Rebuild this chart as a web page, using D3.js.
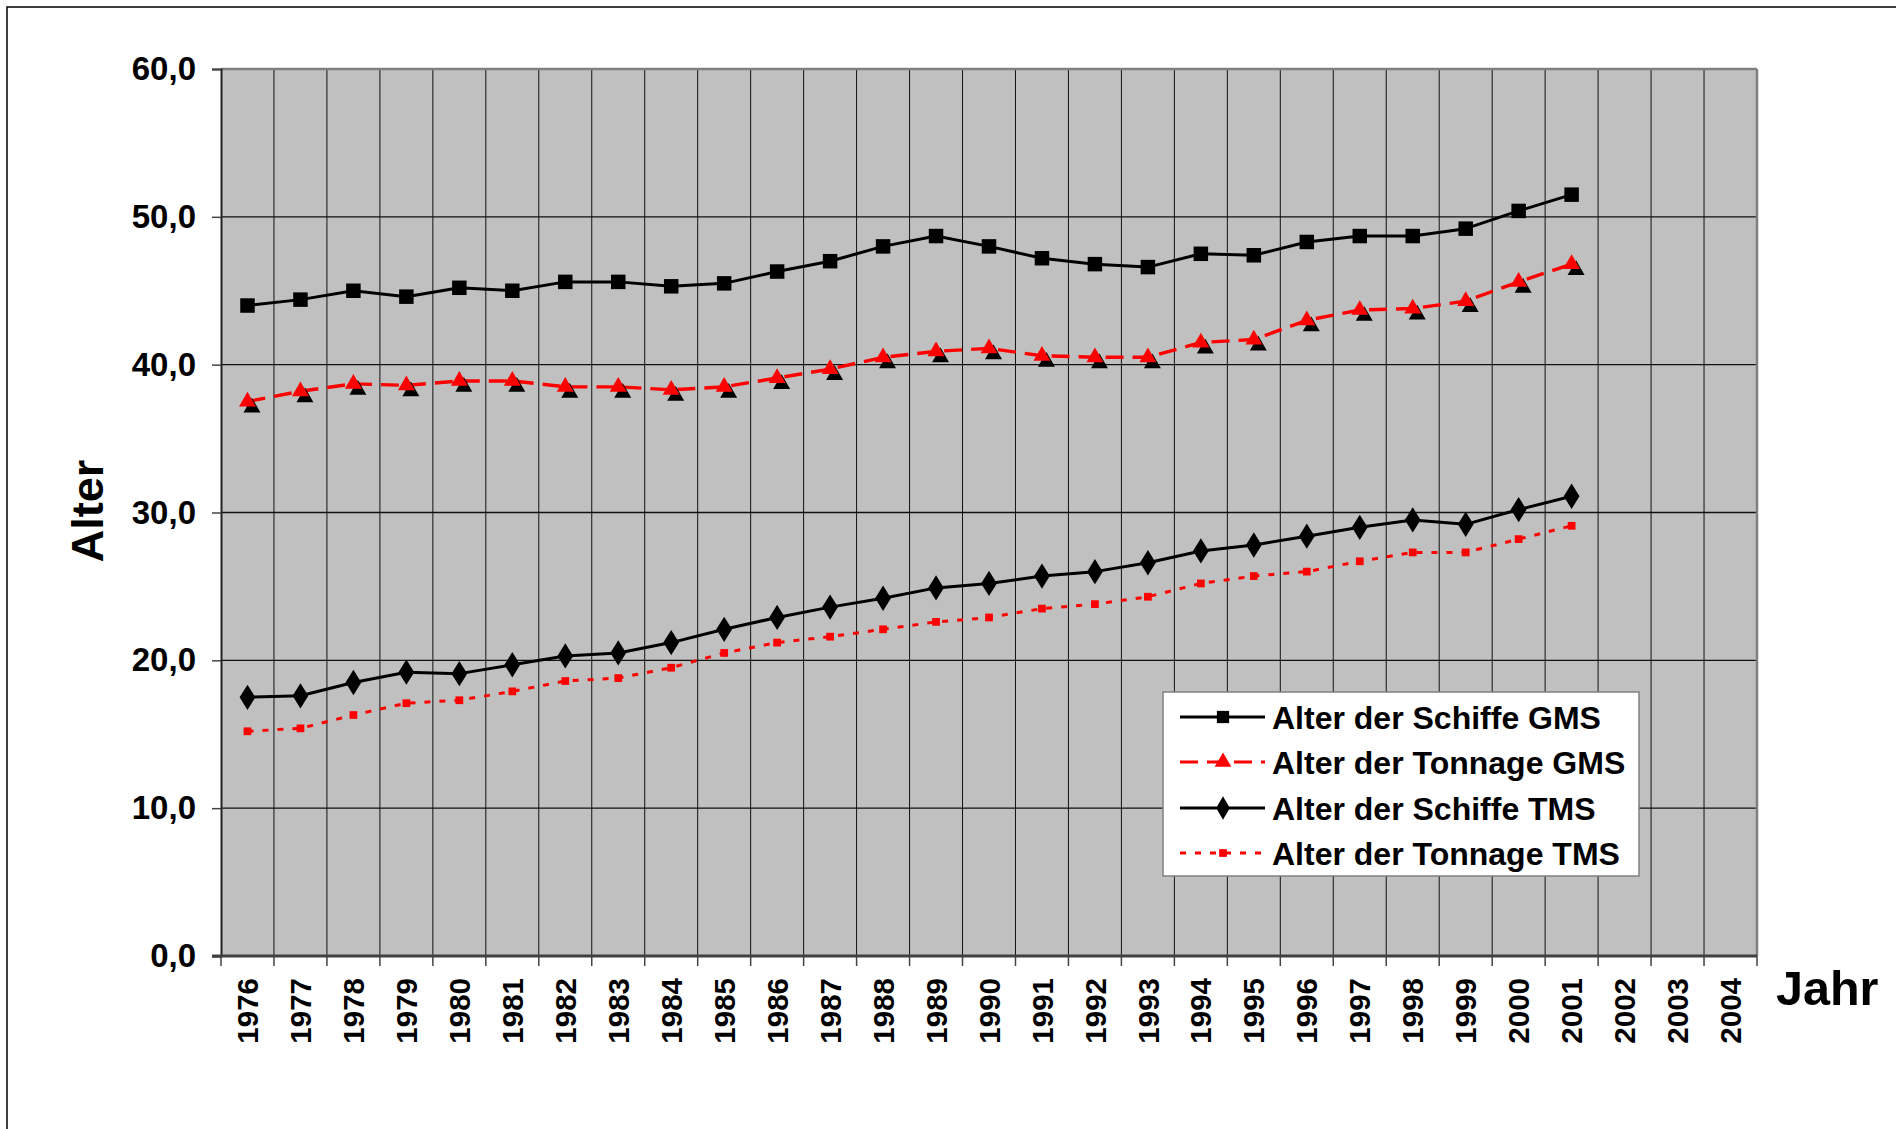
<!DOCTYPE html>
<html>
<head>
<meta charset="utf-8">
<script src="https://cdn.jsdelivr.net/npm/d3@7"></script>
<style>
  html, body { margin: 0; padding: 0; background: #fff; }
  svg { display: block; font-family: "Liberation Sans", Arial, sans-serif; font-weight: bold; }
</style>
</head>
<body>
<svg id="chart" width="1896" height="1129"></svg>
<script>
// ---- data ----
const years = ["1976","1977","1978","1979","1980","1981","1982","1983","1984","1985","1986","1987","1988","1989","1990","1991","1992","1993","1994","1995","1996","1997","1998","1999","2000","2001","2002","2003","2004"];
const dataYears = years.slice(0, 26);
const schiffeGMS  = [44.0,44.4,45.0,44.6,45.2,45.0,45.6,45.6,45.3,45.5,46.3,47.0,48.0,48.7,48.0,47.2,46.8,46.6,47.5,47.4,48.3,48.7,48.7,49.2,50.4,51.5];
const tonnageGMS  = [37.5,38.2,38.7,38.6,38.9,38.9,38.5,38.5,38.3,38.5,39.1,39.7,40.5,40.9,41.1,40.6,40.5,40.5,41.5,41.7,43.0,43.7,43.8,44.3,45.6,46.8];
const schiffeTMS  = [17.5,17.6,18.5,19.2,19.1,19.7,20.3,20.5,21.2,22.1,22.9,23.6,24.2,24.9,25.2,25.7,26.0,26.6,27.4,27.8,28.4,29.0,29.5,29.2,30.2,31.1];
const tonnageTMS  = [15.2,15.4,16.3,17.1,17.3,17.9,18.6,18.8,19.5,20.5,21.2,21.6,22.1,22.6,22.9,23.5,23.8,24.3,25.2,25.7,26.0,26.7,27.3,27.3,28.2,29.1];
const yTicks = [0,10,20,30,40,50,60];
const seriesNames = ["Alter der Schiffe GMS","Alter der Tonnage GMS","Alter der Schiffe TMS","Alter der Tonnage TMS"];
const yTitle = "Alter";
const xTitle = "Jahr";

// ---- layout ----
const svg = d3.select("#chart");
const L = 221, R = 1757, T = 69, B = 956;
const x = d3.scaleBand().domain(years).range([L, R]).padding(0);
const y = d3.scaleLinear().domain([0, 60]).range([B, T]);
const cx = d => x(d) + x.bandwidth() / 2;

// outer chart border
svg.append("rect").attr("x", 7).attr("y", 7).attr("width", 1900).attr("height", 1130)
  .attr("fill", "none").attr("stroke", "#000").attr("stroke-width", 1.5);

// plot area
svg.append("rect").attr("x", L).attr("y", T).attr("width", R - L).attr("height", B - T)
  .attr("fill", "#c0c0c0");

// vertical gridlines at band boundaries
const bounds = years.slice(1);
svg.append("g").selectAll("line").data(bounds).join("line")
  .attr("x1", d => x(d)).attr("x2", d => x(d)).attr("y1", T).attr("y2", B)
  .attr("stroke", "#111").attr("stroke-width", 1);

// horizontal gridlines
svg.append("g").selectAll("line").data(yTicks.filter(v => v > 0 && v < 60)).join("line")
  .attr("x1", L).attr("x2", R).attr("y1", d => y(d)).attr("y2", d => y(d))
  .attr("stroke", "#111").attr("stroke-width", 1.4);

// plot frame (top/right gray)
svg.append("line").attr("x1", L).attr("x2", R).attr("y1", T).attr("y2", T).attr("stroke", "#808080").attr("stroke-width", 2.5);
svg.append("line").attr("x1", R).attr("x2", R).attr("y1", T).attr("y2", B).attr("stroke", "#808080").attr("stroke-width", 2.5);

// y axis
const yAxis = d3.axisLeft(y).tickValues(yTicks)
  .tickFormat(d => d.toFixed(1).replace(".", ","))
  .tickSize(9).tickPadding(16);
const gy = svg.append("g").attr("transform", `translate(${L},0)`).call(yAxis);
gy.select(".domain").attr("stroke", "#222").attr("stroke-width", 2);
gy.selectAll(".tick line").attr("stroke", "#444").attr("stroke-width", 1.5);
gy.selectAll("text").attr("font-size", 33).attr("font-weight", "bold").attr("fill", "#000")
  .attr("font-family", "'Liberation Sans', Arial, sans-serif");

// x axis: labels at band centers, ticks at band boundaries
const xAxis = d3.axisBottom(x).tickSize(0).tickPadding(0);
const gx = svg.append("g").attr("transform", `translate(0,${B})`).call(xAxis);
gx.select(".domain").remove();
gx.selectAll(".tick text")
  .attr("font-size", 29.5).attr("font-weight", "bold").attr("fill", "#000")
  .attr("font-family", "'Liberation Sans', Arial, sans-serif")
  .attr("text-anchor", "end")
  .attr("transform", "translate(0,22) rotate(-90)")
  .attr("x", 0).attr("y", 0).attr("dy", "0.36em");
svg.append("g").selectAll("line").data(years.concat(["end"])).join("line")
  .attr("x1", d => d === "end" ? R : x(d)).attr("x2", d => d === "end" ? R : x(d))
  .attr("y1", B).attr("y2", B + 10).attr("stroke", "#444").attr("stroke-width", 1.5);
svg.append("line").attr("x1", L - 9).attr("x2", R).attr("y1", B).attr("y2", B)
  .attr("stroke", "#404040").attr("stroke-width", 3);

// axis titles
svg.append("text").attr("transform", `translate(103,511) rotate(-90)`)
  .attr("text-anchor", "middle").attr("font-size", 45).attr("fill", "#000").text(yTitle);
svg.append("text").attr("x", 1776).attr("y", 1005)
  .attr("font-size", 48.5).attr("fill", "#000").text(xTitle);

// ---- series ----
const line = d3.line().x((d, i) => cx(dataYears[i])).y(d => y(d));
const sqSym = d3.symbol().type(d3.symbolSquare);
const triSym = d3.symbol().type(d3.symbolTriangle);
const diaSym = d3.symbol().type(d3.symbolDiamond);

function drawLine(vals, color, width, dash) {
  svg.append("path").datum(vals).attr("d", line).attr("fill", "none")
    .attr("stroke", color).attr("stroke-width", width)
    .attr("stroke-dasharray", dash || null).attr("stroke-linejoin", "round");
}

// Tonnage TMS (dotted red, small squares)
drawLine(tonnageTMS, "#ff0000", 3, "6,9");
svg.append("g").selectAll("path").data(tonnageTMS).join("path")
  .attr("transform", (d, i) => `translate(${cx(dataYears[i])},${y(d)})`)
  .attr("d", sqSym.size(60)()).attr("fill", "#ff0000");

// Schiffe TMS (solid black, diamonds)
drawLine(schiffeTMS, "#000", 3);
svg.append("g").selectAll("path").data(schiffeTMS).join("path")
  .attr("transform", (d, i) => `translate(${cx(dataYears[i])},${y(d)}) scale(1.08,1)`)
  .attr("d", diaSym.size(185)()).attr("fill", "#000");

// Tonnage GMS (dashed red, triangles with black shadow)
drawLine(tonnageGMS, "#ff0000", 3.4, "18,9");
svg.append("g").selectAll("path").data(tonnageGMS).join("path")
  .attr("transform", (d, i) => `translate(${cx(dataYears[i]) + 4.5},${y(d) + 6})`)
  .attr("d", triSym.size(125)()).attr("fill", "#000");
svg.append("g").selectAll("path").data(tonnageGMS).join("path")
  .attr("transform", (d, i) => `translate(${cx(dataYears[i])},${y(d)})`)
  .attr("d", triSym.size(125)()).attr("fill", "#ff0000");

// Schiffe GMS (solid black, squares)
drawLine(schiffeGMS, "#000", 3);
svg.append("g").selectAll("path").data(schiffeGMS).join("path")
  .attr("transform", (d, i) => `translate(${cx(dataYears[i])},${y(d)})`)
  .attr("d", sqSym.size(210)()).attr("fill", "#000");

// ---- legend ----
const lg = svg.append("g");
lg.append("rect").attr("x", 1163).attr("y", 692).attr("width", 476).attr("height", 184)
  .attr("fill", "#fff").attr("stroke", "#808080").attr("stroke-width", 1.5);
const legendItems = [
  { name: seriesNames[0], color: "#000", dash: null, width: 2.8, sym: sqSym.size(150)(), fill: "#000" },
  { name: seriesNames[1], color: "#ff0000", dash: "18,9", width: 3.2, sym: triSym.size(120)(), fill: "#ff0000" },
  { name: seriesNames[2], color: "#000", dash: null, width: 2.8, sym: diaSym.size(160)(), fill: "#000" },
  { name: seriesNames[3], color: "#ff0000", dash: "6,9", width: 3, sym: sqSym.size(60)(), fill: "#ff0000" }
];
const rowY = [717, 762, 808, 853];
legendItems.forEach((it, i) => {
  const gy2 = rowY[i];
  lg.append("line").attr("x1", 1180).attr("x2", 1265).attr("y1", gy2).attr("y2", gy2)
    .attr("stroke", it.color).attr("stroke-width", it.width).attr("stroke-dasharray", it.dash);
  lg.append("path").attr("transform", `translate(1223,${gy2})`).attr("d", it.sym).attr("fill", it.fill);
  lg.append("text").attr("x", 1272).attr("y", gy2).attr("dy", "0.36em")
    .attr("font-size", 32).attr("fill", "#000").text(it.name);
});
</script>
</body>
</html>
